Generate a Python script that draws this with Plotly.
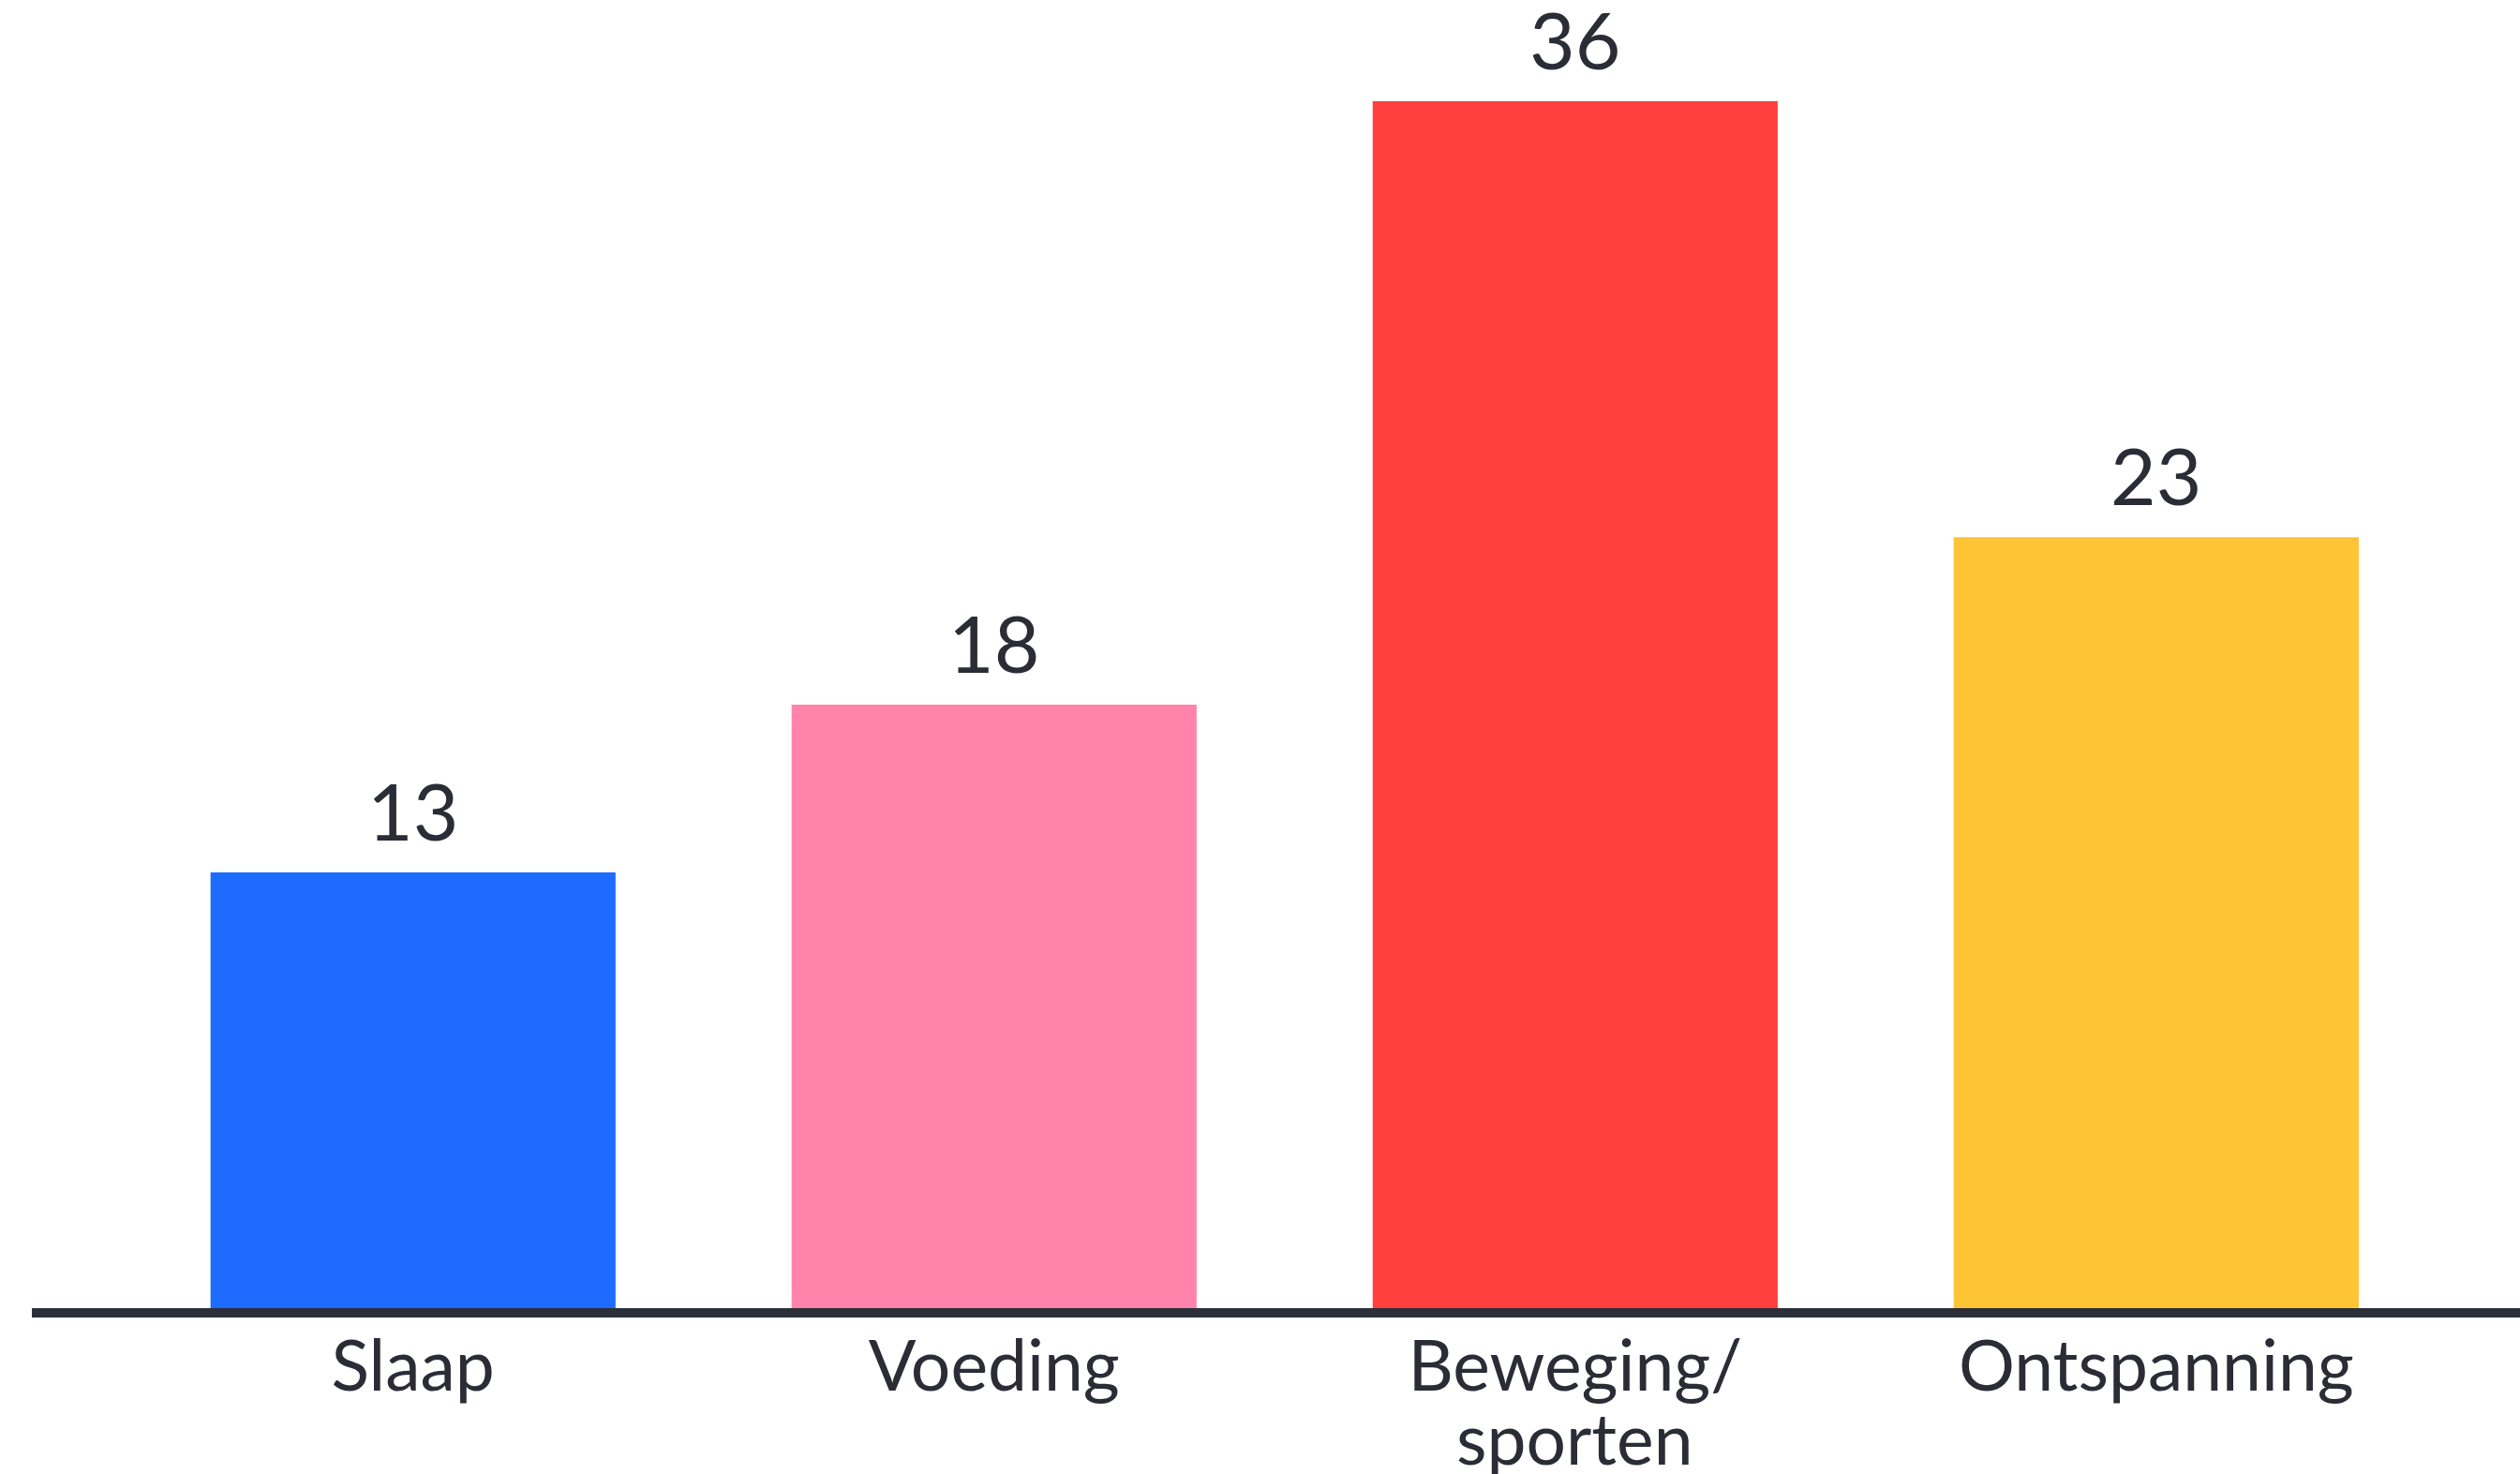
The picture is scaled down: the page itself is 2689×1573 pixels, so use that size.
import plotly.graph_objects as go

categories = ["Slaap", "Voeding", "Beweging/ sporten", "Ontspanning"]
label_line1 = ["Slaap", "Voeding", "Beweging/", "Ontspanning"]
label_line2 = ["", "", "sporten", ""]
values = [13, 18, 36, 23]
colors = ["#1d6bff", "#ff83ab", "#ff403d", "#fdc436"]

TEXT = "#2a2d35"
FONT = "Lato, Inter, sans-serif"

fig = go.Figure()
fig.add_trace(go.Bar(
    x=categories, y=values,
    marker=dict(color=colors, line=dict(width=0)),
    width=0.697,
    hoverinfo="skip",
))

for c, v in zip(categories, values):
    fig.add_annotation(
        x=c, y=v, text=str(v), showarrow=False,
        xanchor="center", yanchor="bottom", yshift=14,
        font=dict(family=FONT, size=84, color=TEXT),
    )

for c, t in zip(categories, label_line2):
    if t:
        fig.add_annotation(
            x=c, y=0, text=t, showarrow=False,
            xanchor="center", yanchor="middle", yshift=-138,
            font=dict(family=FONT, size=75, color=TEXT),
        )

fig.update_layout(
    width=2689, height=1573,
    margin=dict(l=34, r=0, t=0, b=177, autoexpand=False),
    paper_bgcolor="white", plot_bgcolor="white",
    showlegend=False,
    font=dict(family=FONT, color=TEXT),
    xaxis=dict(
        type="category",
        range=[-0.656, 3.626],
        automargin=False,
        tickmode="array", tickvals=categories, ticktext=label_line1,
        showline=True, linecolor="#2b2f38", linewidth=10,
        showgrid=False, zeroline=False,
        ticks="", ticklabelstandoff=-12,
        tickfont=dict(family=FONT, size=75, color=TEXT),
    ),
    yaxis=dict(
        range=[0, 39.02], automargin=False,
        visible=False, showgrid=False, zeroline=False,
    ),
)

fig.write_html("out.html")
